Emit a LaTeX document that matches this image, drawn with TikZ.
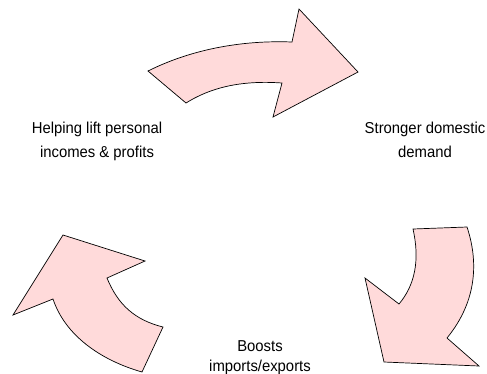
\documentclass[tikz,border=0pt]{standalone}
\usepackage{fontspec}
\setmainfont{Liberation Sans}
\newfontfamily\lblfont[FakeStretch=0.94]{Liberation Sans}
\definecolor{cyclepink}{HTML}{FFDADA}
\usepackage{tikz}

\begin{document}
\begin{tikzpicture}[x=1pt, y=-1pt,
  curvarr/.style={draw=black, fill=cyclepink, line width=0.7pt, line join=miter},
  lbl/.style={align=center, font=\lblfont\fontsize{15.8}{23.5}\selectfont, inner sep=0pt, anchor=base}]
\useasboundingbox (0,0) rectangle (487,373);
% top arrow
\path[curvarr] (148,71) .. controls (190,50) and (240,40) .. (292,42) -- (299,9)
  -- (358,72) -- (273,117) -- (282,83) .. controls (240,80) and (210,88) .. (186,103) -- cycle;
% right arrow
\path[curvarr] (413,229) -- (467,227) .. controls (478,260) and (478,300) .. (447,338)
  -- (479,366) -- (384,362) -- (365,278) -- (399,304) .. controls (415,285) and (420,260) .. (413,229) -- cycle;
% left arrow
\path[curvarr] (63,235) -- (145,261) -- (107,278) .. controls (118,305) and (135,320) .. (163,327)
  -- (142,372) .. controls (100,360) and (65,335) .. (53,299) -- (13,315) -- cycle;
\node[lbl] (helping) at (97,157) {Helping lift personal\\incomes \& profits};
\node[lbl] (stronger) at (425,157) {Stronger domestic\\demand};
\node[lbl, font=\lblfont\fontsize{15.8}{19.5}\selectfont] (boosts) at (260,371) {Boosts\\imports/exports};
\end{tikzpicture}
\end{document}
